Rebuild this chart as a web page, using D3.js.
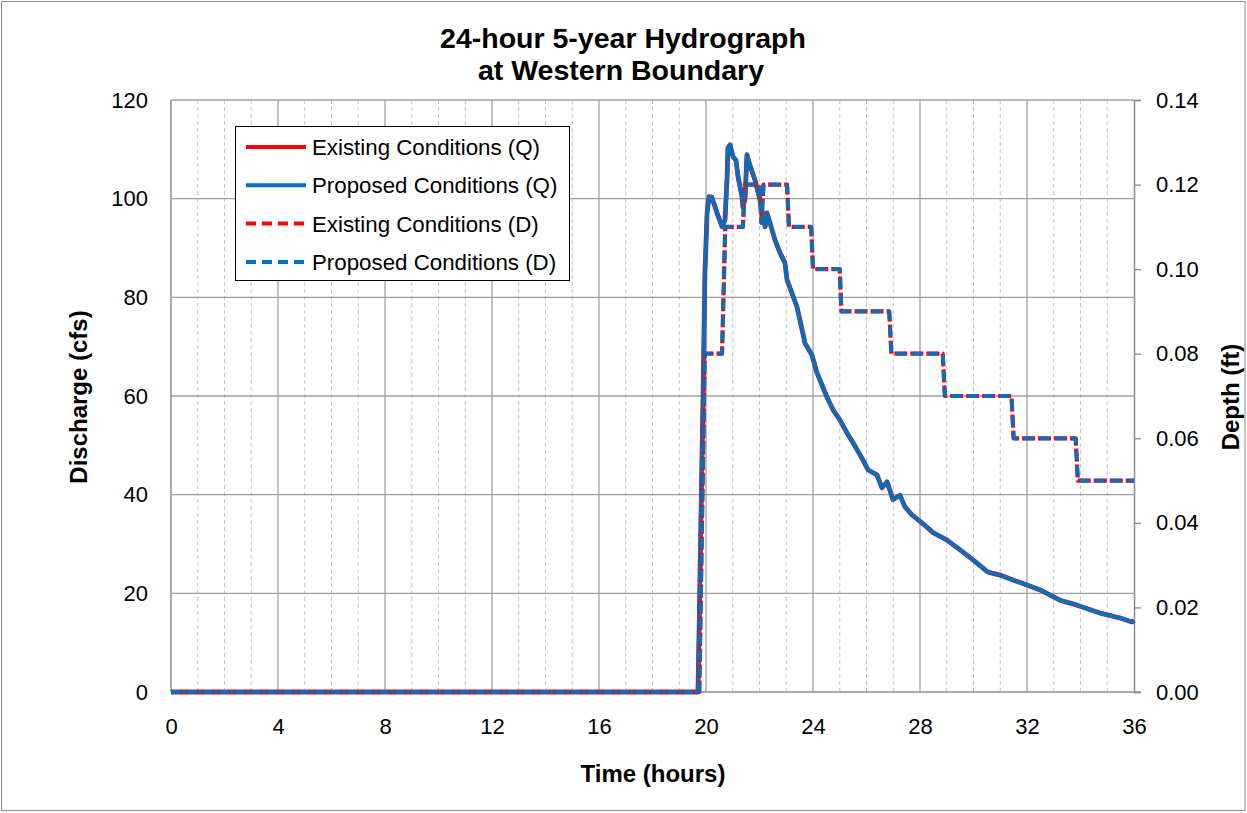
<!DOCTYPE html>
<html>
<head>
<meta charset="utf-8">
<script src="https://cdn.jsdelivr.net/npm/d3@7/dist/d3.min.js"></script>
<style>
  html, body { margin: 0; padding: 0; background: #fff; }
  svg { display: block; font-family: "Liberation Sans", Arial, sans-serif; }
</style>
</head>
<body>
<svg id="chart" width="1247" height="813"></svg>
<script>
// Discharge hydrograph (hours, cfs)
const timeQ = [0, 19.70, 19.75, 19.82, 19.89, 19.96, 20.04, 20.11, 20.22, 20.34, 20.45, 20.60, 20.71, 20.79, 20.82, 20.90,
  21.01, 21.12, 21.20, 21.35, 21.38, 21.46, 21.53, 21.64, 21.83, 22.02, 22.13, 22.21, 22.28, 22.39, 22.58, 22.77, 22.95,
  23.03, 23.21, 23.40, 23.63, 23.70, 23.96, 24.15, 24.52, 24.75, 25.01, 25.27, 25.50, 25.87, 26.06, 26.39, 26.58, 26.77,
  26.99, 27.25, 27.44, 27.70, 28.07, 28.49, 29.01, 29.50, 29.98, 30.54, 30.99, 31.48, 32.00, 32.49, 33.23, 33.87, 34.73,
  35.48, 35.93, 36.00];
const existingQ = [0, 0, 15, 38, 60, 85, 97, 100.4, 100.3, 98.3, 96.5, 94.3, 95.7, 104.4, 110.3, 110.9,
  108.5, 107.8, 104.4, 100.3, 98.3, 100.0, 108.9, 106.8, 103.8, 99.7, 96.3, 94.3, 97.1, 95.1, 91.6, 89.0, 87.0,
  83.5, 80.9, 78.1, 72.5, 70.7, 68.3, 64.7, 59.8, 57.2, 55.1, 52.5, 50.5, 47.0, 45.0, 44.0, 41.4, 42.6,
  39.0, 39.9, 37.5, 35.9, 34.3, 32.3, 30.8, 28.8, 26.8, 24.3, 23.7, 22.7, 21.7, 20.7, 18.6, 17.6, 16.0,
  15.0, 14.2, 14.5];
const proposedQ = existingQ.slice();

// Flow depth (hours, ft)
const timeD = [0, 19.75, 19.95, 20.60, 20.72, 21.38, 21.45, 22.00, 22.07, 22.15, 23.03, 23.10, 23.93, 24.00,
  25.00, 25.06, 26.85, 26.93, 28.85, 28.93, 31.42, 31.50, 33.82, 33.90, 36.00];
const existingD = [0, 0, 0.08, 0.08, 0.11, 0.11, 0.12, 0.12, 0.111, 0.12, 0.12, 0.11, 0.11, 0.10,
  0.10, 0.09, 0.09, 0.08, 0.08, 0.07, 0.07, 0.06, 0.06, 0.05, 0.05];
const proposedD = existingD.slice();

const xTicks = [0, 4, 8, 12, 16, 20, 24, 28, 32, 36];
const qTicks = [0, 20, 40, 60, 80, 100, 120];
const dTicks = [0, 0.02, 0.04, 0.06, 0.08, 0.10, 0.12, 0.14];

const legendItems = [
  { label: "Existing Conditions (Q)", color: "#ff0000", dash: null },
  { label: "Proposed Conditions (Q)", color: "#0070c0", dash: null },
  { label: "Existing Conditions (D)", color: "#ff0000", dash: "10,6" },
  { label: "Proposed Conditions (D)", color: "#0070c0", dash: "10,6" }
];

const svg = d3.select("#chart");
const W = 1247, H = 813;
const plot = { left: 171, right: 1134, top: 100, bottom: 692 };

// outer frame
svg.append("rect").attr("x", 1.5).attr("y", 1.5).attr("width", W - 3.5).attr("height", H - 4)
  .attr("fill", "#fff").attr("stroke", "#8c8c8c").attr("stroke-width", 1);

const x = d3.scaleLinear().domain([0, 36]).range([plot.left, plot.right]);
const yQ = d3.scaleLinear().domain([0, 120]).range([plot.bottom, plot.top]);
const yD = d3.scaleLinear().domain([0, 0.14]).range([plot.bottom, plot.top]);

const g = svg.append("g");

// minor vertical grid (every hour)
g.append("g").selectAll("line").data(d3.range(1, 36).filter(h => h % 4 !== 0)).join("line")
  .attr("x1", d => x(d)).attr("x2", d => x(d)).attr("y1", plot.top).attr("y2", plot.bottom)
  .attr("stroke", "#c4c4c4").attr("stroke-width", 1).attr("stroke-dasharray", "4,3");

// major vertical grid
g.append("g").selectAll("line").data(xTicks.filter(t => t > 0 && t < 36)).join("line")
  .attr("x1", d => x(d)).attr("x2", d => x(d)).attr("y1", plot.top).attr("y2", plot.bottom)
  .attr("stroke", "#a0a0a0").attr("stroke-width", 1.3);

// horizontal grid
g.append("g").selectAll("line").data(qTicks.filter(t => t > 0)).join("line")
  .attr("x1", plot.left).attr("x2", plot.right).attr("y1", d => yQ(d)).attr("y2", d => yQ(d))
  .attr("stroke", "#a0a0a0").attr("stroke-width", 1.3);

// axes lines
g.append("line").attr("x1", plot.left).attr("x2", plot.left).attr("y1", plot.top).attr("y2", plot.bottom)
  .attr("stroke", "#8c8c8c").attr("stroke-width", 1.5);
g.append("line").attr("x1", plot.left).attr("x2", plot.right + 6).attr("y1", plot.bottom).attr("y2", plot.bottom)
  .attr("stroke", "#8c8c8c").attr("stroke-width", 1.5);

// right axis with outward ticks
const rightAxis = d3.axisRight(yD).tickValues(dTicks).tickSize(7).tickFormat(d3.format(".2f")).tickPadding(15);
const ra = svg.append("g").attr("transform", `translate(${plot.right},0)`).call(rightAxis);
ra.select(".domain").attr("stroke", "#8c8c8c").attr("stroke-width", 1.5);
ra.selectAll(".tick line").attr("stroke", "#8c8c8c").attr("stroke-width", 1.3);
ra.selectAll(".tick text").attr("font-size", 22).attr("fill", "#000")
  .attr("font-family", "Liberation Sans, Arial, sans-serif");

// left axis labels
const leftAxis = d3.axisLeft(yQ).tickValues(qTicks).tickSize(0).tickPadding(23);
const la = svg.append("g").attr("transform", `translate(${plot.left},0)`).call(leftAxis);
la.select(".domain").remove();
la.selectAll(".tick text").attr("font-size", 22).attr("fill", "#000")
  .attr("font-family", "Liberation Sans, Arial, sans-serif");

// bottom axis labels
const bottomAxis = d3.axisBottom(x).tickValues(xTicks).tickSize(0).tickPadding(26);
const ba = svg.append("g").attr("transform", `translate(0,${plot.bottom})`).call(bottomAxis);
ba.select(".domain").remove();
ba.selectAll(".tick text").attr("font-size", 22).attr("fill", "#000")
  .attr("font-family", "Liberation Sans, Arial, sans-serif");

// series
const lineQ = (times) => d3.line().x((d, i) => x(times[i])).y(d => yQ(d)).curve(d3.curveLinear);
const lineD = (times) => d3.line().x((d, i) => x(times[i])).y(d => yD(d)).curve(d3.curveLinear);

const series = svg.append("g").attr("fill", "none").attr("stroke-linejoin", "round");
series.append("path").attr("d", lineQ(timeQ)(existingQ))
  .attr("stroke", "#ff0000").attr("stroke-width", 4.8);
series.append("path").attr("d", lineQ(timeQ)(proposedQ))
  .attr("stroke", "#0070c0").attr("stroke-width", 4);
series.append("path").attr("d", lineD(timeD)(existingD))
  .attr("stroke", "#ff0000").attr("stroke-width", 4.2)
  .attr("stroke-dasharray", "13,3").attr("stroke-dashoffset", 1.5);
series.append("path").attr("d", lineD(timeD)(proposedD))
  .attr("stroke", "#0070c0").attr("stroke-width", 3.8)
  .attr("stroke-dasharray", "10,6");

// titles
svg.append("text").attr("x", 623).attr("y", 48).attr("text-anchor", "middle")
  .attr("font-size", 28.5).attr("font-weight", "bold").text("24-hour 5-year Hydrograph");
svg.append("text").attr("x", 621).attr("y", 80).attr("text-anchor", "middle")
  .attr("font-size", 28.5).attr("font-weight", "bold").text("at Western Boundary");

svg.append("text").attr("x", 653).attr("y", 782).attr("text-anchor", "middle")
  .attr("font-size", 24).attr("font-weight", "bold").text("Time (hours)");
svg.append("text").attr("transform", "translate(87,397) rotate(-90)").attr("text-anchor", "middle")
  .attr("font-size", 24).attr("font-weight", "bold").text("Discharge (cfs)");
svg.append("text").attr("transform", "translate(1239,397) rotate(-90)").attr("text-anchor", "middle")
  .attr("font-size", 24).attr("font-weight", "bold").text("Depth (ft)");

// legend
const lg = svg.append("g");
lg.append("rect").attr("x", 235.5).attr("y", 126.5).attr("width", 334).attr("height", 154)
  .attr("fill", "#fff").attr("stroke", "#000").attr("stroke-width", 1);
const rows = lg.selectAll("g.item").data(legendItems).join("g").attr("class", "item")
  .attr("transform", (d, i) => `translate(0,${147 + i * 38.3})`);
rows.append("line").attr("x1", 246).attr("x2", 306).attr("y1", 0).attr("y2", 0)
  .attr("stroke", d => d.color).attr("stroke-width", 4)
  .attr("stroke-dasharray", d => d.dash);
rows.append("text").attr("x", 312).attr("y", 8).attr("font-size", 22.3).text(d => d.label);
</script>
</body>
</html>
